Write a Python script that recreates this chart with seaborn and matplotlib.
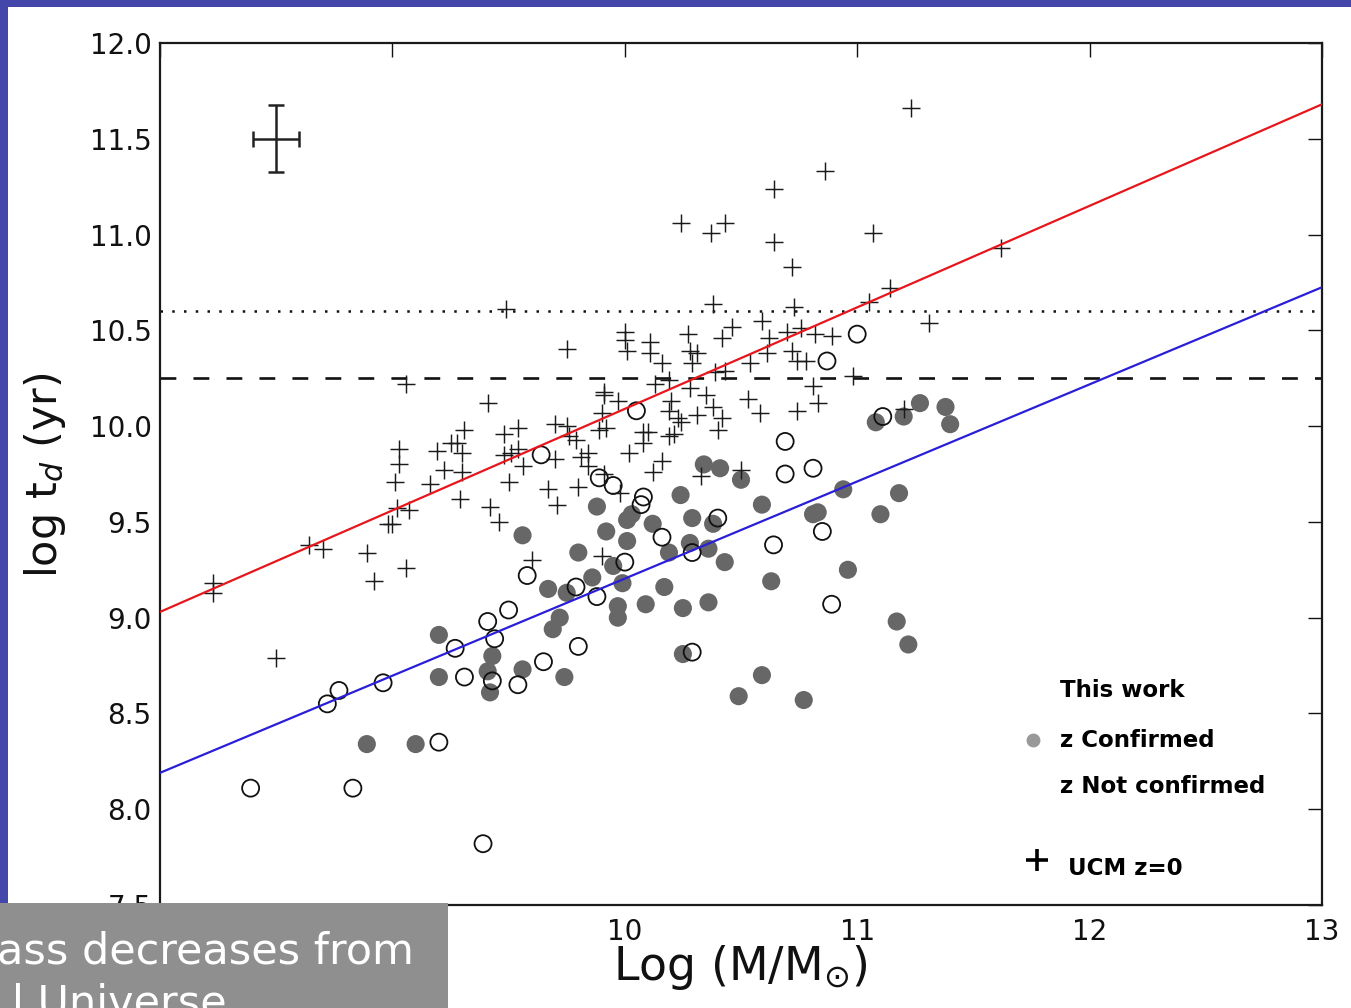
import numpy as np
import matplotlib
matplotlib.use("Agg")
import matplotlib.pyplot as plt
from matplotlib.patches import Rectangle
import seaborn as sns

# UCM local sample (z = 0): log stellar mass and log formation timescale
ucm_logm = [8.23, 8.23, 8.50, 8.64, 8.70, 8.89, 8.92, 9.06, 9.06, 8.98,
            9.00, 9.02, 9.07, 9.01, 9.03, 9.03, 9.16, 9.19, 9.22, 9.25,
            9.28, 9.30, 9.30, 9.29, 9.31, 9.41, 9.42, 9.46, 9.50, 9.48,
            9.54, 9.48, 9.51, 9.54, 9.56, 9.49, 9.60, 9.67, 9.71, 9.70,
            9.70, 9.75, 9.76, 9.79, 9.75, 9.80, 9.81, 9.84, 9.84, 9.91,
            9.98, 9.90, 9.89, 9.92, 9.91, 9.91, 9.97, 9.90, 10.02, 10.08,
            10.08, 10.10, 10.12, 10.16, 10.19, 10.21, 10.24, 10.40, 10.00, 10.00,
            10.01, 10.11, 10.11, 10.16, 10.27, 10.28, 10.31, 10.29, 10.42, 10.46,
            10.38, 10.59, 10.62, 10.61, 10.54, 10.13, 10.19, 10.28, 10.39, 10.43,
            10.35, 10.38, 10.42, 10.31, 10.20, 10.19, 10.23, 10.53, 10.58, 10.50,
            10.33, 10.24, 10.37, 10.43, 10.64, 10.64, 10.86, 11.23, 11.07, 10.72,
            11.14, 11.62, 11.05, 10.73, 11.31, 10.70, 10.76, 10.82, 10.89, 10.72,
            10.74, 10.78, 10.81, 10.98, 10.83, 10.74, 11.20]
ucm_logt = [9.18, 9.13, 8.79, 9.38, 9.36, 9.34, 9.19, 9.26, 10.22, 9.49,
            9.49, 9.57, 9.56, 9.71, 9.80, 9.88, 9.70, 9.87, 9.77, 9.91,
            9.91, 9.86, 9.76, 9.62, 9.98, 10.12, 9.58, 9.50, 9.71, 9.96,
            9.99, 9.85, 9.86, 9.88, 9.79, 10.61, 9.30, 9.67, 9.59, 9.83,
            10.01, 10.00, 9.95, 9.93, 10.40, 9.68, 9.84, 9.86, 9.79, 9.75,
            9.65, 9.32, 9.98, 9.99, 10.18, 10.16, 10.13, 10.07, 9.86, 9.91,
            9.97, 9.97, 9.76, 9.82, 9.95, 9.96, 10.02, 9.98, 10.49, 10.45,
            10.39, 10.44, 10.38, 10.33, 10.48, 10.39, 10.38, 10.33, 10.46, 10.52,
            10.64, 10.55, 10.46, 10.38, 10.33, 10.22, 10.24, 10.20, 10.28, 10.29,
            10.16, 10.10, 10.04, 10.06, 10.13, 10.08, 10.04, 10.14, 10.07, 9.77,
            9.74, 11.06, 11.01, 11.06, 10.96, 11.24, 11.33, 11.66, 11.01, 10.83,
            10.72, 10.93, 10.65, 10.62, 10.54, 10.49, 10.51, 10.48, 10.47, 10.39,
            10.34, 10.34, 10.21, 10.26, 10.12, 10.08, 10.09]

# This work: redshift confirmed
conf_logm = [8.89, 9.10, 9.20, 9.20, 9.41, 9.42, 9.43, 9.56, 9.74, 9.56,
             9.67, 9.75, 9.72, 9.69, 9.80, 9.86, 9.88, 9.92, 10.01, 10.03,
             10.01, 9.95, 9.99, 9.97, 9.97, 10.09, 10.12, 10.17, 10.19, 10.24,
             10.29, 10.38, 10.28, 10.36, 10.43, 10.25, 10.36, 10.34, 10.41, 10.50,
             10.59, 10.63, 10.25, 10.59, 10.49, 11.27, 11.38, 11.40, 11.08, 11.20,
             10.94, 11.18, 11.10, 10.81, 10.83, 10.96, 11.17, 11.22, 10.77]
conf_logt = [8.34, 8.34, 8.91, 8.69, 8.72, 8.61, 8.80, 8.73, 8.69, 9.43,
             9.15, 9.13, 9.00, 8.94, 9.34, 9.21, 9.58, 9.45, 9.51, 9.54,
             9.40, 9.27, 9.18, 9.06, 9.00, 9.07, 9.49, 9.16, 9.34, 9.64,
             9.52, 9.49, 9.39, 9.36, 9.29, 9.05, 9.08, 9.80, 9.78, 9.72,
             9.59, 9.19, 8.81, 8.70, 8.59, 10.12, 10.10, 10.01, 10.02, 10.05,
             9.67, 9.65, 9.54, 9.54, 9.55, 9.25, 8.98, 8.86, 8.57]

# This work: redshift not confirmed
nconf_logm = [8.39, 8.83, 8.72, 8.77, 8.96, 9.20, 9.27, 9.31, 9.41, 9.44,
              9.39, 9.43, 9.54, 9.65, 9.50, 9.58, 9.64, 9.89, 9.95, 10.08,
              10.07, 10.16, 10.00, 9.79, 9.88, 9.80, 10.29, 10.40, 10.29, 10.64,
              10.69, 10.69, 10.81, 10.85, 10.89, 11.11, 11.00, 10.87, 10.05]
nconf_logt = [8.11, 8.11, 8.55, 8.62, 8.66, 8.35, 8.84, 8.69, 8.98, 8.89,
              7.82, 8.67, 8.65, 8.77, 9.04, 9.22, 9.85, 9.73, 9.69, 9.63,
              9.59, 9.42, 9.29, 9.16, 9.11, 8.85, 8.82, 9.52, 9.34, 9.38,
              9.92, 9.75, 9.78, 9.45, 9.07, 10.05, 10.48, 10.34, 10.08]

# Linear fits: (value at log M = 8, slope)
fit_ucm = (9.03, 0.530)
fit_this_work = (8.19, 0.507)

# Reference ages (log yr)
age_dashed = 10.25
age_dotted = 10.60

# Typical uncertainty
err_center = (8.5, 11.5)
err_dx = 0.10
err_dy = 0.175

xticks = [8, 9, 10, 11, 12, 13]
xticklabels = ["", "", "10", "11", "12", "13"]
yticks = [7.5, 8.0, 8.5, 9.0, 9.5, 10.0, 10.5, 11.0, 11.5, 12.0]

sns.set_theme(style="white")
plt.rcParams["font.family"] = ["DejaVu Sans"]
plt.rcParams["mathtext.default"] = "regular"

W, H = 1351, 1008
fig = plt.figure(figsize=(W / 100, H / 100), dpi=100)
fig.patch.set_facecolor("white")
ax = fig.add_axes([160 / W, 1 - 905 / H, 1162 / W, 862 / H])
ax.set_facecolor("white")

# redshift-confirmed galaxies
sns.scatterplot(x=conf_logm, y=conf_logt, ax=ax, s=170, marker="o",
                color="#676767", linewidth=0, legend=False, zorder=2)
ax.collections[-1].set_edgecolor("none")

# not-confirmed galaxies (open circles)
sns.scatterplot(x=nconf_logm, y=nconf_logt, ax=ax, s=150, marker="o",
                color="white", legend=False, zorder=3)
coll = ax.collections[-1]
coll.set_facecolor("none")
coll.set_edgecolor("#111111")
coll.set_linewidth(1.3)

# UCM local galaxies (crosses)
sns.scatterplot(x=ucm_logm, y=ucm_logt, ax=ax, s=150, marker="+",
                color="#1a1a1a", legend=False, zorder=4)
coll = ax.collections[-1]
coll.set_edgecolor("#1a1a1a")
coll.set_linewidth(1.05)

# fits
xs = np.array([8.0, 13.0])
ax.plot(xs, fit_ucm[0] + fit_ucm[1] * (xs - 8.0), color="#e8161c", lw=1.6, zorder=5)
ax.plot(xs, fit_this_work[0] + fit_this_work[1] * (xs - 8.0), color="#2a1fd8", lw=1.6, zorder=5)

# age limits
ax.axhline(age_dashed, color="#111111", lw=1.9, linestyle=(0, (6, 6.5)), zorder=1)
ax.axhline(age_dotted, color="#111111", lw=1.8, linestyle=(0, (1, 3.7)), zorder=1)

# typical error bar
ax.errorbar([err_center[0]], [err_center[1]], xerr=err_dx, yerr=err_dy,
            fmt="none", ecolor="#222222", elinewidth=1.8, capsize=5.5,
            capthick=1.8, zorder=6)

ax.set_xlim(8, 13)
ax.set_ylim(7.5, 12.0)
ax.set_xticks(xticks)
ax.set_yticks(yticks)
ax.set_xticklabels(xticklabels)
ax.set_yticklabels([f"{t:.1f}" for t in yticks])
ax.tick_params(axis="both", direction="in", length=10, width=1.0,
               top=True, right=True, labelsize=20, colors="#111111")
ax.tick_params(axis="x", pad=9)
ax.tick_params(axis="y", pad=6)
for sp in ax.spines.values():
    sp.set_color("#1a1a1a")
    sp.set_linewidth(1.6)
ax.grid(False)

# legend text block
leg_kw = dict(transform=ax.transAxes, fontsize=16.5, fontweight="bold",
              color="black", ha="left", va="center")
ax.text(0.7745, 0.2494, "This work", **leg_kw)
ax.plot([0.7513], [0.1914], "o", transform=ax.transAxes, ms=10,
        color="#999999", mec="none", clip_on=False)
ax.text(0.7745, 0.1914, "z Confirmed", **leg_kw)
ax.text(0.7745, 0.1369, "z Not confirmed", **leg_kw)
ax.plot([0.7547], [0.0520], "+", transform=ax.transAxes, ms=16, mew=2.6,
        color="black", clip_on=False)
ax.text(0.7814, 0.0429, "UCM z=0", **leg_kw)

# axis labels
fig.text(45 / W, 1 - 475 / H, r"log t$_{\mathit{d}}$ (yr)", rotation=90,
         ha="center", va="center", fontsize=31, color="#111111")
fig.text(740 / W, 1 - 968 / H, r"Log (M/M$_{\odot}$)",
         ha="center", va="center", fontsize=33, color="#111111")

# frame strips
frame_col = "#4447a9"
fig.add_artist(Rectangle((0, 0), 8 / W, 1, transform=fig.transFigure,
                         facecolor=frame_col, edgecolor="none", zorder=5))
fig.add_artist(Rectangle((0, 1 - 7 / H), 1, 7 / H, transform=fig.transFigure,
                         facecolor=frame_col, edgecolor="none", zorder=5))

# caption box
fig.add_artist(Rectangle((0, 0), 448 / W, 105 / H, transform=fig.transFigure,
                         facecolor="#8f8f8f", edgecolor="none", zorder=10))
fig.text(-3 / W, 1 - 963 / H, "ass decreases from", color="white",
         fontsize=31, ha="left", va="baseline", zorder=11)
fig.text(12 / W, 1 - 1016 / H, "l Universe", color="white",
         fontsize=31, ha="left", va="baseline", zorder=11)

fig.savefig("out.png", dpi=100)
